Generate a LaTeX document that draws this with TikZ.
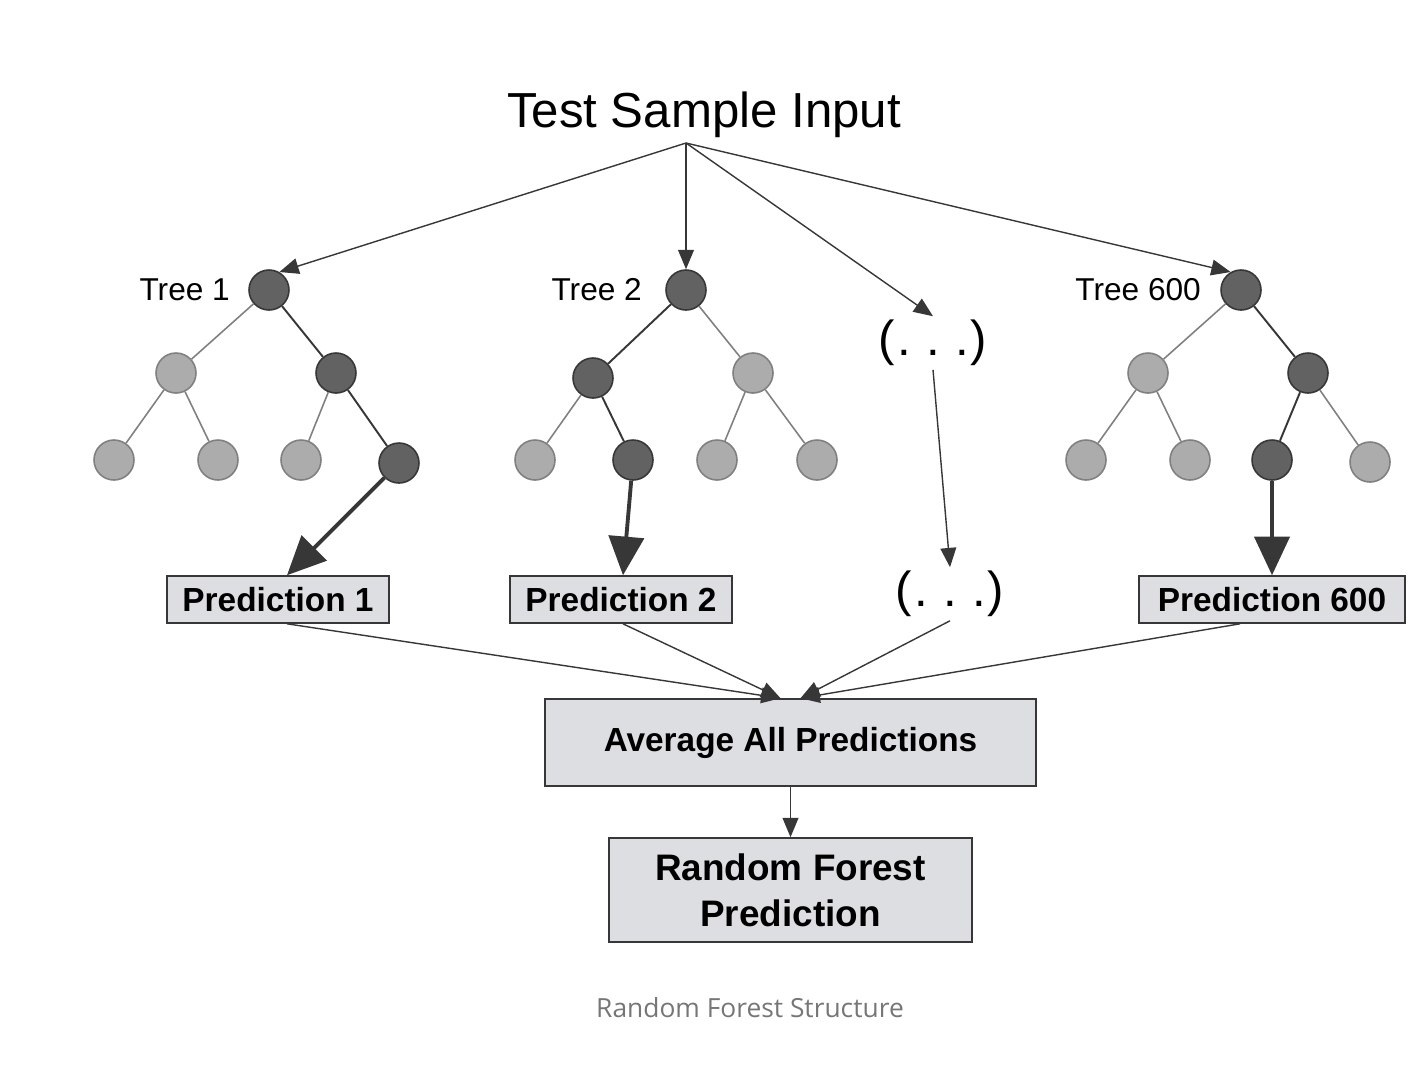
\documentclass[tikz,border=0pt]{standalone}
\usepackage{fontspec}
\setmainfont{Liberation Sans}
\newfontfamily\capfont{Open Sans}
\usetikzlibrary{arrows.meta, positioning}
\definecolor{rfdark}{RGB}{98,98,98}
\definecolor{rfdarkline}{RGB}{55,55,55}
\definecolor{rflight}{RGB}{172,172,172}
\definecolor{rflightline}{RGB}{128,128,128}
\definecolor{rfbox}{RGB}{221,222,225}
\definecolor{rfcap}{RGB}{118,118,118}

\begin{document}
\begin{tikzpicture}[x=0.02cm, y=-0.02cm,
    darknode/.style={circle, fill=rfdark, draw=rfdarkline, line width=0.9pt,
      minimum size=0.8cm, inner sep=0pt},
    lightnode/.style={circle, fill=rflight, draw=rflightline, line width=0.9pt,
      minimum size=0.8cm, inner sep=0pt},
    darkedge/.style={draw=rfdarkline, line width=1.1pt},
    lightedge/.style={draw=rflightline, line width=0.9pt},
    thinarrow/.style={draw=rfdarkline, line width=0.8pt,
      -{Triangle[length=11pt, width=9pt]}},
    thickarrow/.style={draw=rfdarkline, line width=2.2pt,
      -{Triangle[length=22pt, width=20pt]}},
    predbox/.style={draw=rfdarkline, fill=rfbox, line width=0.9pt, inner sep=0pt,
      font=\fontsize{19}{22}\selectfont\bfseries, minimum height=0.94cm},
    treelabel/.style={font=\fontsize{18}{21}\selectfont, anchor=east},
    dotslabel/.style={font=\fontsize{28}{32}\selectfont, inner sep=2pt}]
    \useasboundingbox (0,0) rectangle (1426,1090);

    % input
    \node[font=\fontsize{28}{32}\selectfont, anchor=base] (input) at (704,127) {Test Sample Input};
    \coordinate (src) at (686,143);

    % tree 1
    \node[darknode]  (t1r) at (269,290) {};
    \node[lightnode] (t1a) at (176,373) {};
    \node[darknode]  (t1b) at (336,373) {};
    \node[lightnode] (t1c) at (114,460) {};
    \node[lightnode] (t1e) at (218,460) {};
    \node[lightnode] (t1f) at (301,460) {};
    \node[darknode]  (t1d) at (399,463) {};
    \draw[lightedge] (t1r) -- (t1a);
    \draw[darkedge]  (t1r) -- (t1b);
    \draw[lightedge] (t1a) -- (t1c);
    \draw[lightedge] (t1a) -- (t1e);
    \draw[lightedge] (t1b) -- (t1f);
    \draw[darkedge]  (t1b) -- (t1d);
    \node[treelabel] (t1lab) at (236,290) {Tree 1};

    % tree 2
    \node[darknode]  (t2r) at (686,290) {};
    \node[darknode]  (t2a) at (593,378) {};
    \node[lightnode] (t2b) at (753,373) {};
    \node[lightnode] (t2c) at (535,460) {};
    \node[darknode]  (t2d) at (633,460) {};
    \node[lightnode] (t2e) at (717,460) {};
    \node[lightnode] (t2f) at (817,460) {};
    \draw[darkedge]  (t2r) -- (t2a);
    \draw[lightedge] (t2r) -- (t2b);
    \draw[lightedge] (t2a) -- (t2c);
    \draw[darkedge]  (t2a) -- (t2d);
    \draw[lightedge] (t2b) -- (t2e);
    \draw[lightedge] (t2b) -- (t2f);
    \node[treelabel] (t2lab) at (648,290) {Tree 2};

    % tree 600
    \node[darknode]  (t6r) at (1241,290) {};
    \node[lightnode] (t6a) at (1148,373) {};
    \node[darknode]  (t6b) at (1308,373) {};
    \node[lightnode] (t6c) at (1086,460) {};
    \node[lightnode] (t6e) at (1190,460) {};
    \node[darknode]  (t6d) at (1272,460) {};
    \node[lightnode] (t6f) at (1370,462) {};
    \draw[lightedge] (t6r) -- (t6a);
    \draw[darkedge]  (t6r) -- (t6b);
    \draw[lightedge] (t6a) -- (t6c);
    \draw[lightedge] (t6a) -- (t6e);
    \draw[darkedge]  (t6b) -- (t6d);
    \draw[lightedge] (t6b) -- (t6f);
    \node[treelabel] (t6lab) at (1207,290) {Tree 600};

    % the trees left out
    \node[dotslabel] (dotsA) at (933,343) {(\kern1pt.\ \kern1pt.\ \kern1pt.\kern1pt)};
    \node[dotslabel] (dotsB) at (950,594) {(\kern1pt.\ \kern1pt.\ \kern1pt.\kern1pt)};

    % predictions
    \node[predbox, minimum width=4.44cm] (p1) at (278,599.5) {Prediction 1};
    \node[predbox, minimum width=4.44cm] (p2) at (621,599.5) {Prediction 2};
    \node[predbox, minimum width=5.32cm] (p6) at (1272,599.5) {Prediction 600};
    \node[predbox, minimum width=9.82cm, minimum height=1.74cm] (avg) at (790.5,742.5)
      {Average All Predictions};
    \node[predbox, minimum width=7.26cm, minimum height=2.08cm, align=center,
      font=\fontsize{21}{26}\selectfont\bfseries] (rf) at (790.5,890)
      {Random Forest\\Prediction};
    \coordinate (avgin1) at ([xshift=-0.2cm]avg.north);
    \coordinate (avgin2) at ([xshift=0.2cm]avg.north);

    % arrows from the input
    \draw[thinarrow] (src) -- (t1r.60);
    \draw[thinarrow] (src) -- (t2r);
    \draw[thinarrow] (src) -- (dotsA.north);
    \draw[thinarrow] (src) -- (t6r.120);
    % leaf to prediction
    \draw[thickarrow] (t1d) -- ([xshift=0.18cm]p1.north);
    \draw[thickarrow] (t2d) -- ([xshift=0.04cm]p2.north);
    \draw[thinarrow]  (dotsA.south) -- (dotsB.north);
    \draw[thickarrow] (t6d) -- (p6.north);
    % predictions to average
    \draw[thinarrow] ([xshift=0.18cm]p1.south) -- (avgin1);
    \draw[thinarrow] ([xshift=0.04cm]p2.south) -- (avgin1);
    \draw[thinarrow] (dotsB.south) -- (avgin2);
    \draw[thinarrow] ([xshift=-0.64cm]p6.south) -- (avgin2);
    \draw[thinarrow] (avg.south) -- (rf.north);

    % caption
    \node[font=\capfont\fontsize{15}{18}\selectfont, text=rfcap] (caption) at (750,1008)
      {Random Forest Structure};
\end{tikzpicture}
\end{document}
